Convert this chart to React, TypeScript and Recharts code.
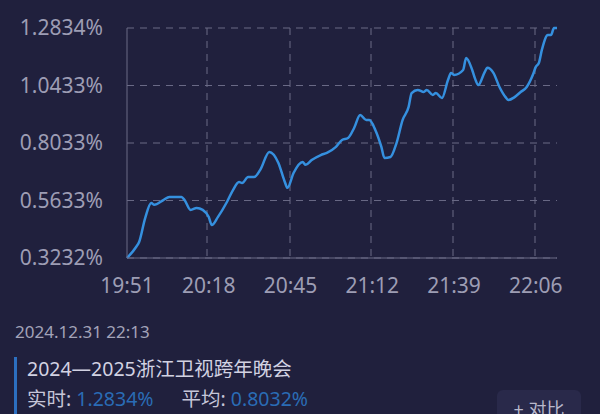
import { LineChart, Line, XAxis, YAxis, CartesianGrid } from "recharts";

// minutes after 19:51, and the rating (%) at that minute
const minutes = [
  0, 3, 4, 6, 8, 9, 12, 14, 18, 19, 21, 23, 25, 27, 28, 30, 33, 35, 37, 38, 40,
  42, 44, 47, 50, 52, 53, 55, 58, 59, 61, 64, 66, 69, 71, 73, 75, 77, 79, 80,
  82, 84, 85, 87, 89, 91, 93, 94, 96, 98, 99, 101, 102, 104, 106, 107, 108, 111,
  112, 114, 115, 116, 118, 119, 121, 123, 125, 126, 128, 130, 132, 134, 135,
  136, 137, 139, 140, 141, 142,
];
const ratings = [
  0.3232, 0.369, 0.39, 0.49, 0.553, 0.545, 0.565, 0.578, 0.578, 0.565, 0.524,
  0.532, 0.524, 0.494, 0.461, 0.494, 0.557, 0.607, 0.641, 0.636, 0.661, 0.661,
  0.691, 0.766, 0.72, 0.645, 0.616, 0.678, 0.724, 0.712, 0.732, 0.753, 0.762,
  0.787, 0.816, 0.824, 0.866, 0.92, 0.899, 0.899, 0.858, 0.787, 0.741, 0.745,
  0.803, 0.899, 0.954, 1.012, 1.025, 1.016, 1.025, 1.004, 1.012, 0.991, 1.066,
  1.096, 1.087, 1.108, 1.158, 1.108, 1.07, 1.045, 1.096, 1.117, 1.096, 1.037,
  0.995, 0.983, 0.995, 1.016, 1.037, 1.087, 1.121, 1.137, 1.192, 1.254, 1.254,
  1.283, 1.2834,
];

const timeTicks = [0, 27, 54, 81, 108, 135];
const timeLabels = ["19:51", "20:18", "20:45", "21:12", "21:39", "22:06"];
const valueTicks = [0.3232, 0.5633, 0.8033, 1.0433, 1.2834];

const data = minutes.map((m, i) => ({ m, v: ratings[i] }));

const BG = "#20203d";
const FONT = "'Noto Sans', 'Noto Sans CJK SC', sans-serif";
const tickStyle = { fill: "#9d9db4", fontSize: 21, fontFamily: FONT };

export default function App() {
  return (
    <div
      style={{
        position: "fixed",
        left: 0,
        top: 0,
        width: 600,
        height: 414,
        background: BG,
        fontFamily: FONT,
        overflow: "hidden",
      }}
    >
      <LineChart
        width={600}
        height={310}
        data={data}
        margin={{ top: 28, right: 43, left: 0, bottom: 2 }}
      >
        <CartesianGrid
          stroke="#6a6a86"
          strokeDasharray="7 6"
          verticalPoints={[207, 290, 371, 453, 535]}
        />
        <XAxis
          dataKey="m"
          type="number"
          domain={[0, 142]}
          ticks={timeTicks}
          tickFormatter={(t: number) => timeLabels[timeTicks.indexOf(t)]}
          height={50}
          stroke="#6a6a86"
          tickLine={false}
          tickMargin={14}
          tick={tickStyle}
        />
        <YAxis
          type="number"
          domain={[0.3232, 1.2834]}
          ticks={valueTicks}
          tickFormatter={(v: number) => v.toFixed(4) + "%"}
          width={127}
          stroke="#6a6a86"
          tickLine={false}
          tickMargin={18}
          tick={tickStyle}
        />
        <Line
          type="monotone"
          dataKey="v"
          stroke="#3590df"
          strokeWidth={2.5}
          dot={false}
          isAnimationActive={false}
        />
      </LineChart>

      <div
        style={{
          position: "absolute",
          left: 15,
          top: 320,
          color: "#a3a3b8",
          fontSize: 17,
        }}
      >
        2024.12.31 22:13
      </div>
      <div
        style={{
          position: "absolute",
          left: 14,
          top: 357,
          width: 3,
          height: 60,
          background: "#2c6fc0",
        }}
      />
      <div
        style={{
          position: "absolute",
          left: 27,
          top: 353,
          color: "#d2d2e2",
          fontSize: 19.5,
        }}
      >
        2024—2025浙江卫视跨年晚会
      </div>
      <div
        style={{
          position: "absolute",
          left: 27,
          top: 383,
          fontSize: 19.5,
          color: "#c6c6d8",
          whiteSpace: "nowrap",
        }}
      >
        实时: <span style={{ color: "#2a6cb5" }}>1.2834%</span>
        <span style={{ marginLeft: 28 }}>平均: </span>
        <span style={{ color: "#2a6cb5" }}>0.8032%</span>
      </div>
      <div
        style={{
          position: "absolute",
          left: 497,
          top: 390,
          width: 84,
          height: 40,
          borderRadius: 6,
          background: "#29294a",
          color: "#b8b8cc",
          fontSize: 18,
          textAlign: "center",
          lineHeight: "38px",
        }}
      >
        + 对比
      </div>
    </div>
  );
}
